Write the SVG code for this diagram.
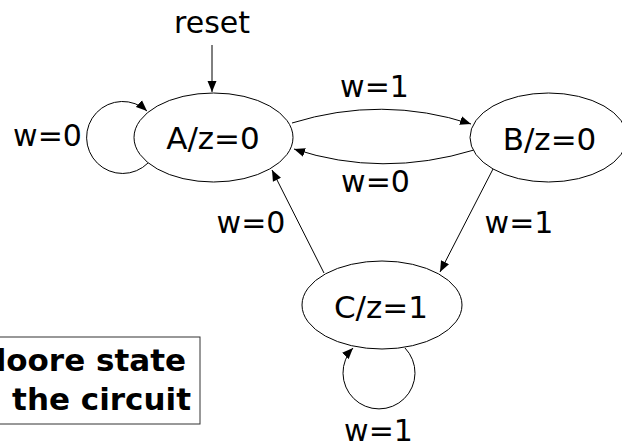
<svg xmlns="http://www.w3.org/2000/svg" width="622" height="443" viewBox="0 0 622 443">
<style>
  .st { fill: #ffffff; stroke: #000000; stroke-width: 1; }
  .lbl { font-family: "DejaVu Sans", Verdana, sans-serif; font-size: 30px; fill: #000000; text-anchor: middle; }
  .slbl { font-family: "DejaVu Sans", Verdana, sans-serif; font-size: 31px; fill: #000000; text-anchor: middle; }
  .edge { fill: none; stroke: #000000; stroke-width: 1; marker-end: url(#arr); }
  .note { font-family: "DejaVu Sans", Verdana, sans-serif; font-size: 31px; font-weight: bold; fill: #000000; text-anchor: end; }
</style>
<defs>
  <marker id="arr" markerUnits="userSpaceOnUse" markerWidth="12" markerHeight="10" refX="11" refY="5" orient="auto">
    <path d="M0,0.5 L11,5 L0,9.5 Z" fill="#000000"/>
  </marker>
</defs>
<rect width="622" height="443" fill="#ffffff"/>

<g id="connectors">
  <path class="edge" d="M212,45 L212,92" stroke="#444444"/>
  <path class="edge" d="M148,163 A36,36 0 1 1 147,111"/>
  <path class="edge" d="M292,123 Q382,95 471,124"/>
  <path class="edge" d="M474,150 Q382,178 294,149"/>
  <path class="edge" d="M493,169 L440,272"/>
  <path class="edge" d="M324,273 L272,170"/>
  <path class="edge" d="M405,348 A36,36 0 1 1 353,348"/>
</g>

<g id="node-A">
  <ellipse class="st" cx="213.5" cy="137.5" rx="79.5" ry="44.5"/>
  <text class="slbl" x="213" y="149">A/z=0</text>
</g>
<g id="node-B">
  <ellipse class="st" cx="548.5" cy="137.5" rx="78.5" ry="44.5"/>
  <text class="slbl" x="549.5" y="150">B/z=0</text>
</g>
<g id="node-C">
  <ellipse class="st" cx="382" cy="305" rx="80" ry="44"/>
  <text class="slbl" x="381" y="318">C/z=1</text>
</g>

<g id="labels">
  <text class="lbl" x="212" y="33">reset</text>
  <text class="lbl" x="47.5" y="146">w=0</text>
  <text class="lbl" x="374.5" y="97">w=1</text>
  <text class="lbl" x="375.5" y="192">w=0</text>
  <text class="lbl" x="251" y="233">w=0</text>
  <text class="lbl" x="519" y="233">w=1</text>
  <text class="lbl" x="378.5" y="441">w=1</text>
</g>

<g id="note">
  <rect x="-10" y="337" width="210" height="87" fill="#ffffff" stroke="#333333" stroke-width="1"/>
  <text class="note" x="186" y="371">loore state</text>
  <text class="note" x="191" y="410">the circuit</text>
</g>
</svg>
